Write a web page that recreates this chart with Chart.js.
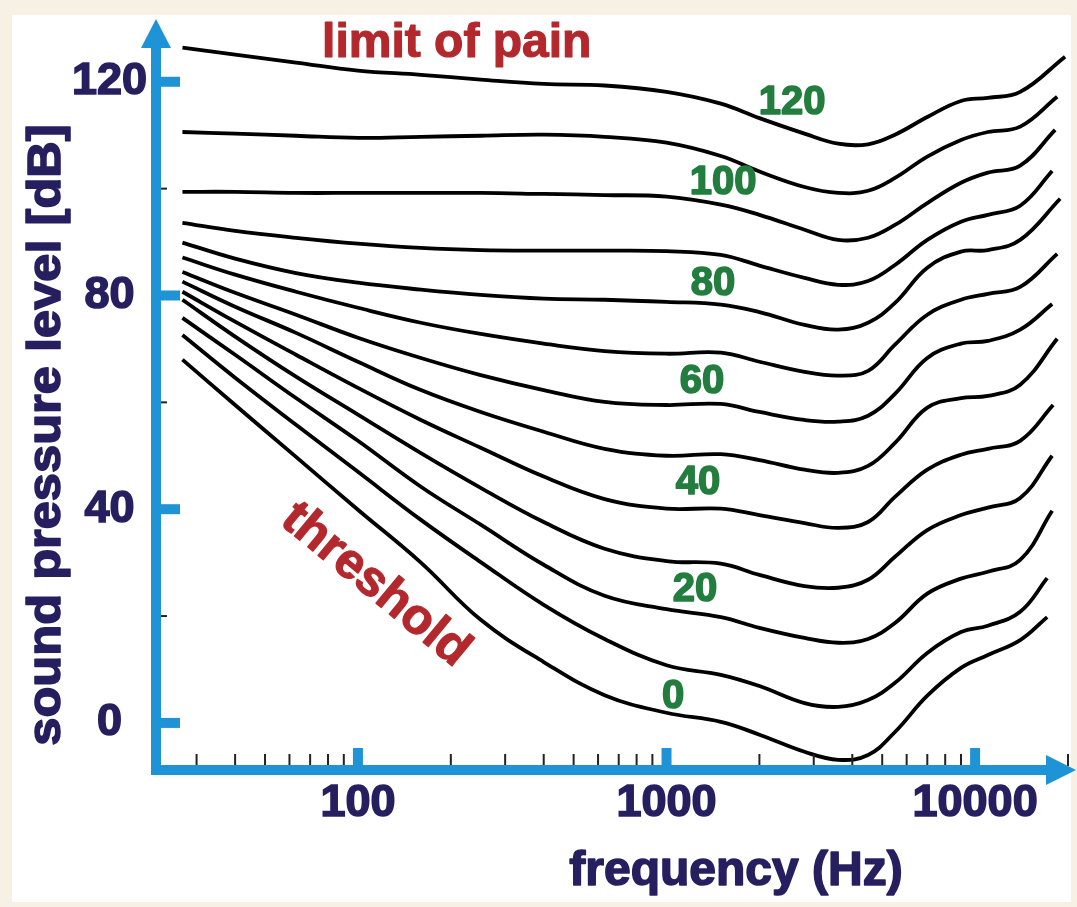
<!DOCTYPE html>
<html><head><meta charset="utf-8">
<script src="https://cdn.jsdelivr.net/npm/chart.js@4.4.1/dist/chart.umd.min.js"></script>
<style>html,body{margin:0;padding:0;background:#f7f0e5;}canvas{display:block;}</style>
</head><body>
<canvas id="c" width="1077" height="907"></canvas>
<script>
// ---- data ----
const freqs = [27, 40, 63, 100, 160, 250, 400, 630, 1000, 1500, 2000, 2800, 3600, 4500, 5500, 7000, 9000, 11000, 14000];
const phonLevels = [120, 110, 100, 90, 80, 70, 60, 50, 40, 30, 20, 10, 0];
const endFreqs = [19570, 18450, 18170, 17770, 18860, 18450, 17770, 18450, 17900, 17770, 17770, 17120, 17120];
const spl120 = [126.4,125.1,123.6,122.1,121.3,120.4,119.6,119.3,118.1,115.9,113.2,110.3,108.4,108.3,110.1,113.4,116.4,117.0,118.1,124.7];
const spl110 = [110.6,110.3,109.9,109.5,109.7,109.9,110.1,109.7,108.6,106.1,103.2,100.3,99.2,99.6,102.0,106.0,109.1,110.6,111.6,117.2];
const spl100 = [99.4,99.4,99.2,99.2,99.2,99.2,99.0,98.8,98.5,97.0,95.1,92.3,90.4,90.8,93.2,97.3,101.1,103.0,104.3,111.0];
const spl90  = [93.6,92.1,90.8,89.7,88.9,88.5,88.4,88.4,88.3,87.6,85.6,83.3,82.0,82.7,85.7,90.4,93.8,95.1,96.8,103.3];
const spl80  = [89.9,86.9,84.2,82.4,81.1,80.1,79.4,79.2,78.8,78.3,76.9,74.5,73.6,74.9,78.6,85.2,88.2,88.5,90.4,98.1];
const spl70  = [87.1,83.9,80.7,77.7,74.9,72.8,71.0,69.6,69.1,69.3,67.6,65.7,65.0,65.9,70.8,76.4,79.2,80.3,81.6,87.8];
const spl60  = [84.4,80.5,76.4,72.1,68.3,65.1,62.3,60.1,59.5,59.7,58.2,56.7,56.4,57.5,61.6,68.3,71.0,71.5,73.6,78.4];
const spl50  = [82.6,77.9,73.0,67.6,62.3,58.2,54.5,51.3,50.0,50.3,49.2,47.4,46.8,48.1,52.4,59.0,60.8,61.2,63.3,71.9];
const spl40  = [80.7,75.1,68.9,62.7,56.7,51.5,46.1,41.9,40.1,40.1,38.9,37.4,36.5,37.6,42.3,47.4,50.2,51.3,52.8,59.5];
const spl30  = [79.2,72.3,64.8,57.7,50.5,44.0,37.6,32.6,30.3,29.8,27.7,25.6,25.3,26.8,31.1,36.1,38.9,40.3,42.1,50.0];
const spl20  = [75.8,68.9,60.8,52.8,44.2,37.1,29.6,23.8,21.3,19.8,17.8,15.9,15.0,15.7,18.7,24.2,27.0,28.3,30.5,39.7];
const spl10  = [72.6,64.6,55.8,47.0,38.0,30.1,22.1,15.7,10.8,9.0,6.9,3.7,3.0,4.3,7.5,13.1,17.0,18.2,20.8,27.1];
const spl0   = [68.0,59.5,49.8,39.9,30.0,19.3,11.4,5.2,1.9,0.2,-2.2,-5.4,-6.9,-6.0,-1.7,5.1,10.3,12.7,15.5,19.8];
const curves = [spl120, spl110, spl100, spl90, spl80, spl70, spl60, spl50, spl40, spl30, spl20, spl10, spl0];

const xTicks = [100, 1000, 10000];
const yTicks = [0, 40, 80, 120];
const yMinorTicks = [20, 60, 100];
const phonLabelTexts = ['120', '100', '80', '60', '40', '20', '0'];
const phonLabelFreqs = [2552, 1525, 1415, 1304, 1265, 1237, 1050];
const phonLabelSpl = [116.1, 101.1, 82.2, 63.8, 44.9, 24.9, 4.9];
const painText = 'limit of pain', painFreq = 209, painSpl = 127.1;
const threshText = 'threshold', threshFreq = 114, threshSpl = 25.8;
const xTitle = 'frequency (Hz)';
const yTitle = 'sound pressure level [dB]';

// ---- styles ----
const FONT = '"Liberation Sans", Arial, sans-serif';
const NAVY = '#261f5f', BLUE = '#1e93d6', GREEN = '#227d3e', RED = '#b3282d';

const datasets = curves.map((arr, i) => ({
  label: phonLevels[i] + ' phon',
  data: arr.map((v, j) => ({ x: j < freqs.length ? freqs[j] : endFreqs[i], y: v })),
  borderColor: '#000', borderWidth: 3.8, pointRadius: 0, fill: false,
  tension: 0.4
}));

function boldText(ctx, t, x, y, w) {
  ctx.lineWidth = w; ctx.lineJoin = 'round'; ctx.strokeStyle = ctx.fillStyle;
  ctx.strokeText(t, x, y); ctx.fillText(t, x, y);
}

const decor = {
  id: 'decor',
  beforeDraw(chart) {
    const ctx = chart.ctx;
    ctx.save();
    ctx.fillStyle = '#f7f0e5'; ctx.fillRect(0, 0, chart.width, chart.height);
    ctx.fillStyle = '#ffffff'; ctx.fillRect(12, 15, 1059, 887);
    ctx.restore();
  },
  afterDraw(chart) {
    const ctx = chart.ctx, xs = chart.scales.x, ys = chart.scales.y, ca = chart.chartArea;
    const ax = ca.left + 1, ay = ca.bottom - 1;
    ctx.save();
    // minor x ticks
    ctx.fillStyle = '#222';
    for (let k = 1; k <= 4; k++) {
      for (let m = 2; m <= 9; m++) {
        const v = m * Math.pow(10, k);
        if (v < xs.min || v > xs.max) continue;
        const px = xs.getPixelForValue(v);
        ctx.fillRect(px - 1, ay - 16, 2, 12);
      }
    }
    // minor y ticks
    yMinorTicks.forEach(v => { const py = ys.getPixelForValue(v); ctx.fillRect(ax + 5, py - 1, 6, 2); });
    // axes
    ctx.fillStyle = BLUE;
    ctx.fillRect(ax - 5, 46, 10, ay + 5 - 46);
    ctx.beginPath(); ctx.moveTo(ax - 15, 48); ctx.lineTo(ax + 15, 48); ctx.lineTo(ax, 19); ctx.closePath(); ctx.fill();
    ctx.fillRect(ax - 5, ay - 5, 1048 - (ax - 5), 10);
    ctx.beginPath(); ctx.moveTo(1046, ay - 15); ctx.lineTo(1046, ay + 15); ctx.lineTo(1076, ay); ctx.closePath(); ctx.fill();
    yTicks.forEach(v => { const py = ys.getPixelForValue(v); ctx.fillRect(ax, py - 5, 24, 10); });
    xTicks.forEach(v => { const px = xs.getPixelForValue(v); ctx.fillRect(px - 5, ay - 22, 10, 22); });
    // phon labels
    ctx.fillStyle = GREEN; ctx.font = 'bold 40px ' + FONT; ctx.textAlign = 'center'; ctx.textBaseline = 'middle';
    phonLabelTexts.forEach((t, i) => boldText(ctx, t, xs.getPixelForValue(phonLabelFreqs[i]), ys.getPixelForValue(phonLabelSpl[i]), 1.6));
    // red annotations
    ctx.fillStyle = RED; ctx.font = 'bold 48px ' + FONT;
    boldText(ctx, painText, xs.getPixelForValue(painFreq), ys.getPixelForValue(painSpl), 1.2);
    ctx.save();
    ctx.translate(xs.getPixelForValue(threshFreq), ys.getPixelForValue(threshSpl));
    ctx.rotate(39.5 * Math.PI / 180);
    ctx.font = 'bold 50px ' + FONT;
    boldText(ctx, threshText, 0, 0, 1.2);
    ctx.restore();
    // axis titles
    ctx.fillStyle = NAVY; ctx.font = 'bold 48px ' + FONT; ctx.textBaseline = 'alphabetic';
    boldText(ctx, xTitle, 736, 885, 1.6);
    ctx.save();
    ctx.translate(60, 435); ctx.rotate(-Math.PI / 2); ctx.scale(1.1, 1);
    ctx.font = 'bold 46px ' + FONT;
    boldText(ctx, yTitle, 0, 0, 1.6);
    ctx.restore();
    ctx.restore();
  }
};

new Chart(document.getElementById('c'), {
  type: 'line',
  data: { datasets },
  options: {
    responsive: false, animation: false, devicePixelRatio: 1,
    layout: { padding: { left: 0, right: 9, top: 23, bottom: 0 } },
    plugins: { legend: { display: false }, tooltip: { enabled: false } },
    scales: {
      x: {
        type: 'logarithmic', min: 22, max: 20000,
        grid: { display: false, drawTicks: false, tickLength: 0 }, border: { display: false },
        afterBuildTicks: s => { s.ticks = xTicks.map(v => ({ value: v })); },
        afterFit: s => { s.height = 136; s.paddingLeft = 0; s.paddingRight = 0; },
        ticks: { autoSkip: false, maxRotation: 0, padding: 6, color: NAVY,
          textStrokeColor: NAVY, textStrokeWidth: 1.6,
          font: { family: FONT, size: 45, weight: 'bold', lineHeight: 1.2 },
          callback: v => String(v) }
      },
      y: {
        type: 'linear', min: -9, max: 131,
        grid: { display: false, drawTicks: false, tickLength: 0 }, border: { display: false },
        afterBuildTicks: s => { s.ticks = yTicks.map(v => ({ value: v })); },
        afterFit: s => { s.width = 155; s.paddingTop = 0; s.paddingBottom = 0; },
        ticks: { padding: 8, crossAlign: 'center', color: NAVY,
          textStrokeColor: NAVY, textStrokeWidth: 1.6,
          font: { family: FONT, size: 45, weight: 'bold', lineHeight: 1.2 },
          callback: v => String(v) }
      }
    }
  },
  plugins: [decor]
});
</script>
</body></html>
